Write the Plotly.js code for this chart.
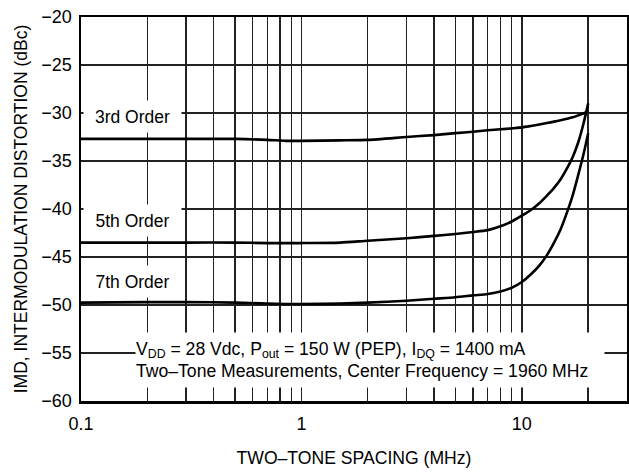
<!DOCTYPE html>
<html>
<head>
<meta charset="utf-8">
<script src="https://cdn.plot.ly/plotly-3.0.1.min.js"></script>
<style>html,body{margin:0;padding:0;background:#fff;}#chart{width:629px;height:476px;}</style>
</head>
<body>
<div id="chart"></div>
<script>
// Two-tone spacing (MHz)
const spacing = [0.1, 0.2, 0.3, 0.5, 0.7, 0.85, 1, 1.5, 2, 3, 4, 5, 6, 7, 8, 9, 10, 11, 12, 13, 14, 15, 16, 17, 18, 19, 20];
// IMD (dBc)
const imd3 = [-32.7, -32.7, -32.7, -32.7, -32.8, -32.9, -32.9, -32.85, -32.8, -32.5, -32.3, -32.1, -31.95, -31.8, -31.7, -31.6, -31.5, -31.35, -31.2, -31.05, -30.9, -30.75, -30.6, -30.45, -30.25, -30.05, -29.8];
const imd5 = [-43.5, -43.5, -43.5, -43.5, -43.55, -43.55, -43.55, -43.5, -43.3, -43.05, -42.8, -42.6, -42.4, -42.2, -41.8, -41.3, -40.7, -40.1, -39.4, -38.6, -37.8, -36.9, -35.8, -34.6, -33.1, -31.2, -29.0];
const imd7 = [-49.75, -49.7, -49.7, -49.75, -49.85, -49.9, -49.9, -49.85, -49.75, -49.55, -49.35, -49.2, -49.0, -48.85, -48.6, -48.2, -47.6, -46.8, -45.9, -44.8, -43.5, -42.1, -40.4, -38.6, -36.5, -34.4, -32.1];
const seriesNames = ["3rd Order", "5th Order", "7th Order"];
// x tick labels (major) and grid positions (minor)
const xTickVals = [0.1, 1, 10];
const xTickText = ["0.1", "1", "10"];
const xMinorVals = [0.2,0.3,0.4,0.5,0.6,0.7,0.8,0.9,2,3,4,5,6,7,8,9,20];
const yTickVals = [-60,-55,-50,-45,-40,-35,-30,-25,-20];

const FONT = '"Liberation Sans", Arial, sans-serif';
const lineStyle = {color: '#000', width: 2.6, shape: 'spline', smoothing: 0.6};

const traces = [imd3, imd5, imd7].map((ys, i) => ({
  x: spacing, y: ys, type: 'scatter', mode: 'lines', name: seriesNames[i],
  line: lineStyle, hoverinfo: 'skip'
}));

const labelY = [0.742, 0.471, 0.3125];
const annotations = seriesNames.map((n, i) => ({
  text: n, xref: 'paper', yref: 'paper', x: 0.0935, y: labelY[i],
  xanchor: 'center', yanchor: 'middle', showarrow: false,
  bgcolor: '#fff', width: 97, height: 31, borderpad: 0,
  font: {family: FONT, size: 17.5, color: '#000'}
}));
annotations.push({
  text: 'V<sub>DD</sub> = 28 Vdc, P<sub>out</sub> = 150 W (PEP), I<sub>DQ</sub> = 1400 mA<br>Two\u2013Tone Measurements, Center Frequency = 1960 MHz',
  xref: 'paper', yref: 'paper', x: 0.53, y: 0.107, xanchor: 'center', yanchor: 'middle',
  showarrow: false, align: 'left', bgcolor: '#fff', width: 468, height: 54, borderpad: 0,
  font: {family: FONT, size: 17.6, color: '#000'}
});

const gridStyle = {showgrid: true, gridcolor: '#222', gridwidth: 1.4};

const layout = {
  width: 629, height: 476,
  margin: {l: 81, r: 2, t: 17, b: 75},
  paper_bgcolor: '#fff', plot_bgcolor: '#fff',
  showlegend: false,
  font: {family: FONT, color: '#000', size: 18},
  xaxis: Object.assign({
    type: 'log', range: [-1, Math.log10(30)],
    tickmode: 'array', tickvals: xTickVals, ticktext: xTickText,
    minor: Object.assign({tickmode: 'array', tickvals: xMinorVals, ticks: ''}, gridStyle),
    showline: true, linecolor: '#000', linewidth: 2.5, mirror: true,
    ticks: '', ticklabelstandoff: 5, zeroline: false,
    tickfont: {family: FONT, size: 18, color: '#000'},
    title: {text: 'TWO\u2013TONE SPACING (MHz)', font: {family: FONT, size: 17.6, color: '#000'}, standoff: 19}
  }, gridStyle),
  yaxis: Object.assign({
    range: [-60, -20], tickmode: 'array', tickvals: yTickVals,
    showline: true, linecolor: '#000', linewidth: 2.5, mirror: true,
    ticks: '', ticklabelstandoff: 3, zeroline: false,
    tickfont: {family: FONT, size: 18, color: '#000'},
    title: {text: 'IMD, INTERMODULATION DISTORTION (dBc)', font: {family: FONT, size: 17.5, color: '#000'}, standoff: 9}
  }, gridStyle),
  annotations: annotations
};

Plotly.newPlot('chart', traces, layout, {staticPlot: true, displayModeBar: false});
</script>
</body>
</html>
